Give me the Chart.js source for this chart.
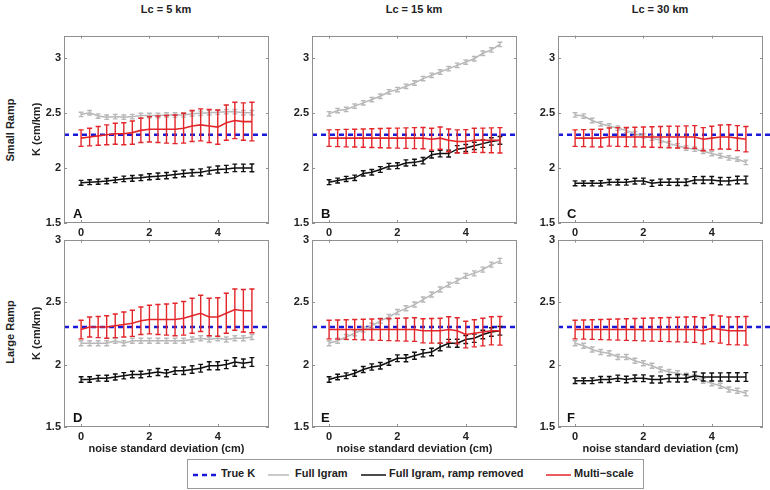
<!DOCTYPE html>
<html>
<head>
<meta charset="utf-8">
<script src="https://cdn.jsdelivr.net/npm/chart.js@4.4.1/dist/chart.umd.min.js"></script>
<style>
  html, body { margin:0; padding:0; }
  body { width:770px; height:490px; background:#fff; position:relative; overflow:hidden;
         font-family:"Liberation Sans", Arial, sans-serif; font-weight:bold; color:#222; }
  canvas { position:absolute; }
  .t { position:absolute; font-size:11px; white-space:nowrap; line-height:13px; }
  .ctr { transform:translateX(-50%); }
  .rot { transform:translate(-50%,-50%) rotate(-90deg); }
  #legend { position:absolute; left:187px; top:459px; width:455px; height:28px; border:1px solid #9a9a9a; background:#fff; }
  #legend .t { top:7px; }
  #legend svg { position:absolute; top:0; }
</style>
</head>
<body>
<div class="t ctr" style="left:166px; top:3px;">Lc = 5 km</div>
<div class="t ctr" style="left:414px; top:3px;">Lc = 15 km</div>
<div class="t ctr" style="left:660px; top:3px;">Lc = 30 km</div>
<div class="t rot" style="left:10px; top:130px;">Small Ramp</div>
<div class="t rot" style="left:10px; top:332px;">Large Ramp</div>
<div id="legend">
  <svg width="455" height="28">
    <line x1="5" y1="15" x2="28" y2="15" stroke="rgb(25,25,215)" stroke-width="2.5" stroke-dasharray="5,4"/>
    <line x1="80" y1="15" x2="101" y2="15" stroke="#b8b8b8" stroke-width="1.5"/>
    <line x1="173" y1="15" x2="198" y2="15" stroke="#111" stroke-width="1.5"/>
    <line x1="358" y1="15" x2="383" y2="15" stroke="#e3262a" stroke-width="1.5"/>
  </svg>
  <div class="t" style="left:33px;">True K</div>
  <div class="t" style="left:107px;">Full Igram</div>
  <div class="t" style="left:201px;">Full Igram, ramp removed</div>
  <div class="t" style="left:386px;">Multi&#8722;scale</div>
</div>

<script>
// ---------------- data ----------------
const xVals = [0,0.25,0.5,0.75,1,1.25,1.5,1.75,2,2.25,2.5,2.75,3,3.25,3.5,3.75,4,4.25,4.5,4.75,5];
const xTicks = [0,2,4];
const yTicks = [1.5,2,2.5,3];
const xRange = [-0.5,5.5];
const yRangeTop = [1.5,3.2];
const yRangeBottom = [1.5,3.0];
const trueK = 2.3;
const trueKx = [-0.5,6];
const columnTitles = ["Lc = 5 km","Lc = 15 km","Lc = 30 km"];
const panelLetters = ["A","B","C","D","E","F"];

// Panel A (small ramp, Lc = 5 km)
const grayA  = [2.485,2.50,2.47,2.46,2.465,2.46,2.465,2.475,2.475,2.475,2.48,2.48,2.48,2.49,2.495,2.50,2.505,2.51,2.51,2.50,2.50];
const blackA = [1.865,1.87,1.875,1.88,1.89,1.90,1.905,1.91,1.92,1.925,1.93,1.94,1.95,1.955,1.96,1.975,1.985,1.99,2.00,2.00,2.00];
const redA   = [2.27,2.28,2.29,2.30,2.31,2.31,2.32,2.34,2.35,2.35,2.35,2.35,2.36,2.38,2.39,2.38,2.37,2.41,2.43,2.42,2.42];
// Panel B (small ramp, Lc = 15 km)
const grayB  = [2.49,2.52,2.53,2.56,2.59,2.62,2.65,2.69,2.71,2.74,2.77,2.81,2.84,2.87,2.90,2.93,2.96,2.99,3.04,3.07,3.12];
const blackB = [1.87,1.885,1.90,1.91,1.95,1.96,1.985,2.015,2.02,2.045,2.05,2.065,2.12,2.13,2.13,2.17,2.18,2.20,2.22,2.24,2.25];
const redB   = [2.27,2.27,2.27,2.27,2.27,2.27,2.27,2.27,2.27,2.27,2.27,2.27,2.26,2.27,2.25,2.24,2.24,2.25,2.25,2.25,2.25];
// Panel C (small ramp, Lc = 30 km)
const grayC  = [2.48,2.47,2.43,2.40,2.38,2.36,2.34,2.31,2.29,2.27,2.25,2.22,2.20,2.18,2.17,2.15,2.13,2.11,2.09,2.08,2.05];
const blackC = [1.86,1.86,1.86,1.86,1.87,1.87,1.87,1.88,1.88,1.86,1.87,1.87,1.87,1.87,1.89,1.89,1.89,1.88,1.88,1.89,1.89];
const redC   = [2.27,2.27,2.27,2.27,2.28,2.28,2.28,2.28,2.28,2.28,2.28,2.28,2.28,2.28,2.28,2.26,2.27,2.28,2.28,2.27,2.26];
// Panel D (large ramp, Lc = 5 km)
const grayD  = [2.17,2.17,2.17,2.17,2.19,2.17,2.19,2.19,2.19,2.19,2.19,2.19,2.19,2.20,2.21,2.20,2.21,2.20,2.21,2.21,2.22];
const blackD = [1.88,1.88,1.89,1.89,1.90,1.91,1.92,1.92,1.93,1.94,1.93,1.95,1.95,1.96,1.97,1.99,1.99,2.00,2.02,2.01,2.02];
const redD   = [2.28,2.30,2.30,2.30,2.31,2.32,2.33,2.35,2.36,2.36,2.36,2.36,2.37,2.39,2.41,2.38,2.38,2.41,2.44,2.43,2.43];
// Panel E (large ramp, Lc = 15 km)
const grayE  = [2.17,2.19,2.22,2.25,2.28,2.31,2.35,2.38,2.42,2.45,2.48,2.52,2.56,2.60,2.64,2.67,2.71,2.73,2.76,2.80,2.83];
const blackE = [1.88,1.90,1.91,1.93,1.96,1.98,1.99,2.02,2.05,2.05,2.07,2.09,2.10,2.14,2.17,2.17,2.20,2.21,2.24,2.26,2.27];
const redE   = [2.28,2.28,2.28,2.28,2.28,2.28,2.28,2.28,2.28,2.28,2.28,2.27,2.27,2.27,2.28,2.27,2.24,2.25,2.26,2.27,2.27];
// Panel F (large ramp, Lc = 30 km)
const grayF  = [2.17,2.15,2.12,2.10,2.09,2.06,2.06,2.03,2.01,1.99,1.96,1.94,1.93,1.91,1.90,1.87,1.85,1.83,1.80,1.79,1.77];
const blackF = [1.87,1.87,1.87,1.88,1.88,1.89,1.88,1.89,1.89,1.88,1.88,1.89,1.89,1.89,1.91,1.90,1.90,1.90,1.90,1.90,1.90];
const redF   = [2.28,2.28,2.28,2.28,2.28,2.28,2.28,2.28,2.28,2.28,2.28,2.28,2.28,2.28,2.28,2.27,2.29,2.28,2.27,2.27,2.27];

// error bar half-widths
const grayErr  = [0.02,0.02,0.02,0.02,0.02,0.02,0.02,0.02,0.02,0.02,0.02,0.02,0.02,0.02,0.02,0.02,0.02,0.02,0.02,0.02,0.02];
const blackErr = [0.022,0.022,0.023,0.024,0.024,0.025,0.026,0.026,0.027,0.028,0.028,0.029,0.03,0.03,0.031,0.032,0.032,0.033,0.034,0.034,0.035];
const redErrLarge = [0.075,0.08,0.085,0.09,0.095,0.10,0.105,0.11,0.115,0.12,0.125,0.13,0.135,0.14,0.145,0.15,0.155,0.16,0.165,0.17,0.175];
const redErrSmall = [0.075,0.077,0.079,0.081,0.083,0.085,0.087,0.089,0.091,0.093,0.095,0.097,0.099,0.101,0.103,0.105,0.107,0.109,0.111,0.113,0.115];

const seriesNames = ["True K","Full Igram","Full Igram, ramp removed","Multi-scale"];

// ---------------- layout / style ----------------
const COLORS = { blue:'rgb(25,25,215)', gray:'#b8b8b8', black:'#111111', red:'#e3262a' };
const colLeft = [64, 312, 558];
const rowTop = [34, 238];
const PW = 205, PH = 189, AXW = 45, PADT = 8, PADR = 15;

Chart.defaults.font.family = '"Liberation Sans", Arial, sans-serif';
Chart.defaults.font.weight = 'bold';
Chart.defaults.font.size = 11;
Chart.defaults.color = '#222';

const errorBarPlugin = {
  id: 'errbars',
  afterDatasetDraw(chart, args) {
    const ds = chart.data.datasets[args.index];
    if (!ds.errors) return;
    const ctx = chart.ctx, xs = chart.scales.x, ys = chart.scales.y;
    const cap = ds.capHalf || 2.5;
    ctx.save();
    ctx.strokeStyle = ds.borderColor;
    ctx.lineWidth = ds.errWidth || 1.3;
    ds.data.forEach((p, i) => {
      const e = ds.errors[i];
      const px = xs.getPixelForValue(p.x);
      const y1 = ys.getPixelForValue(p.y - e);
      const y2 = ys.getPixelForValue(p.y + e);
      ctx.beginPath();
      ctx.moveTo(px, y1); ctx.lineTo(px, y2);
      ctx.moveTo(px - cap, y1); ctx.lineTo(px + cap, y1);
      ctx.moveTo(px - cap, y2); ctx.lineTo(px + cap, y2);
      ctx.stroke();
    });
    ctx.restore();
  }
};

const framePlugin = {
  id: 'frame',
  afterDraw(chart, args, opts) {
    const {ctx, chartArea: a} = chart;
    const xs = chart.scales.x, ys = chart.scales.y;
    ctx.save();
    ctx.strokeStyle = '#8f8f8f';
    ctx.lineWidth = 1;
    ctx.strokeRect(Math.round(a.left) + 0.5, Math.round(a.top) + 0.5, Math.round(a.width) - 1, Math.round(a.height) - 1);
    ctx.beginPath();
    const tl = 3;
    xTicks.forEach(v => {
      const px = Math.round(xs.getPixelForValue(v)) + 0.5;
      ctx.moveTo(px, a.bottom); ctx.lineTo(px, a.bottom - tl);
      ctx.moveTo(px, a.top); ctx.lineTo(px, a.top + tl);
    });
    yTicks.forEach(v => {
      const py = Math.round(ys.getPixelForValue(v)) + 0.5;
      ctx.moveTo(a.left, py); ctx.lineTo(a.left + tl, py);
      ctx.moveTo(a.right, py); ctx.lineTo(a.right - tl, py);
    });
    ctx.stroke();
    ctx.fillStyle = '#111';
    ctx.font = 'bold 13px "Liberation Sans", Arial, sans-serif';
    ctx.textAlign = 'left';
    ctx.textBaseline = 'alphabetic';
    ctx.fillText(opts.letter, a.left + 9, a.bottom - 5);
    ctx.restore();
  }
};

function pts(vals) { return xVals.map((x, i) => ({x: x, y: vals[i]})); }

const panels = [
  {r:0, c:0, gray:grayA, black:blackA, red:redA, redErr:redErrLarge},
  {r:0, c:1, gray:grayB, black:blackB, red:redB, redErr:redErrSmall},
  {r:0, c:2, gray:grayC, black:blackC, red:redC, redErr:redErrSmall},
  {r:1, c:0, gray:grayD, black:blackD, red:redD, redErr:redErrLarge},
  {r:1, c:1, gray:grayE, black:blackE, red:redE, redErr:redErrSmall},
  {r:1, c:2, gray:grayF, black:blackF, red:redF, redErr:redErrSmall}
];

panels.forEach((p, idx) => {
  const cv = document.createElement('canvas');
  const xAxisH = p.r === 0 ? 28 : 36;
  const w = AXW + PW + PADR, h = PADT + PH + xAxisH;
  cv.width = w; cv.height = h;
  cv.style.left = (colLeft[p.c] - AXW) + 'px';
  cv.style.top = (rowTop[p.r] - PADT) + 'px';
  cv.style.width = w + 'px'; cv.style.height = h + 'px';
  document.body.appendChild(cv);
  const yR = p.r === 0 ? yRangeTop : yRangeBottom;

  new Chart(cv, {
    type: 'line',
    data: {
      datasets: [
        { label: seriesNames[3], data: pts(p.red), errors: p.redErr, borderColor: COLORS.red,
          borderWidth: 1.6, errWidth: 1.4, capHalf: 2.6, pointRadius: 0, order: 0, tension: 0 },
        { label: seriesNames[2], data: pts(p.black), errors: blackErr, borderColor: COLORS.black,
          borderWidth: 1.5, errWidth: 1.4, capHalf: 2.4, pointRadius: 0, order: 1, tension: 0 },
        { label: seriesNames[1], data: pts(p.gray), errors: grayErr, borderColor: COLORS.gray,
          borderWidth: 1.5, errWidth: 1.4, capHalf: 2.4, pointRadius: 0, order: 2, tension: 0 },
        { label: seriesNames[0], data: trueKx.map(x => ({x: x, y: trueK})), borderColor: COLORS.blue,
          borderWidth: 2.5, borderDash: [5, 4], pointRadius: 0, order: 3,
          clip: {left: 0, top: 0, bottom: 0, right: p.c === 2 ? 20 : 0} }
      ]
    },
    options: {
      responsive: false,
      animation: false,
      events: [],
      layout: { padding: { top: PADT, right: PADR, left: 0, bottom: 0 } },
      plugins: { legend: { display: false }, tooltip: { enabled: false }, frame: { letter: panelLetters[idx] } },
      scales: {
        x: {
          type: 'linear', min: xRange[0], max: xRange[1],
          grid: { display: false, drawTicks: false }, border: { display: false },
          afterBuildTicks: s => { s.ticks = xTicks.map(v => ({value: v})); },
          afterFit: s => { s.height = xAxisH; },
          ticks: { padding: 3, autoSkip: false, maxRotation: 0, color: '#222', font: { size: 11, weight: 'bold' } },
          title: { display: p.r === 1, text: 'noise standard deviation (cm)', color: '#222',
                   font: { size: 11, weight: 'bold' }, padding: { top: 0, bottom: 7 } }
        },
        y: {
          type: 'linear', min: yR[0], max: yR[1],
          grid: { display: false, drawTicks: false }, border: { display: false },
          afterBuildTicks: s => { s.ticks = yTicks.map(v => ({value: v})); },
          afterFit: s => { s.width = AXW; },
          ticks: { padding: 3, autoSkip: false, color: '#222', font: { size: 11, weight: 'bold' },
                   callback: v => String(v) },
          title: { display: p.c === 0, text: 'K (cm/km)', color: '#222',
                   font: { size: 11, weight: 'bold' }, padding: { top: 11, bottom: 0 } }
        }
      }
    },
    plugins: [errorBarPlugin, framePlugin]
  });
});
</script>
</body>
</html>
